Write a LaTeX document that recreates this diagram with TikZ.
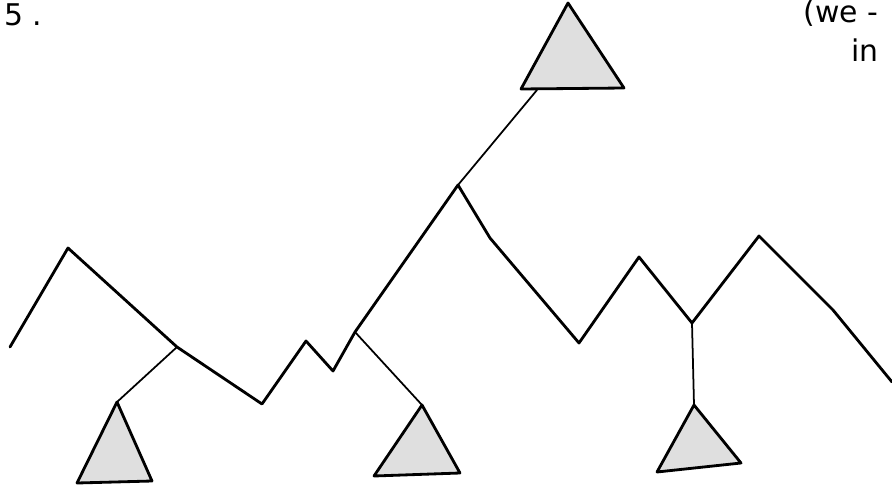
\documentclass[tikz,border=0pt]{standalone}
\usepackage{fontspec}
\setmainfont{DejaVu Sans}
\begin{document}
\begin{tikzpicture}[
    x=0.02cm, y=-0.02cm,
    ridge/.style={line width=1.6pt, line join=round, line cap=round},
    link/.style={line width=1pt, line cap=round},
    subtree/.style={draw, line width=1.6pt, line join=round, fill=gray!25},
    note/.style={font=\fontsize{17}{20}\selectfont, inner sep=0pt}
]
\useasboundingbox (0,0) rectangle (892,490);
\clip (0,0) rectangle (892,490);

% joints on the ridge
\coordinate (a) at (177,347);
\coordinate (b) at (355,332);
\coordinate (top) at (458,185);
\coordinate (c) at (692,323);

% apexes of the hanging triangles
\coordinate (ta) at (117,402);
\coordinate (tb) at (422,405);
\coordinate (tc) at (694,405);
\coordinate (root) at (537,90);

\draw[ridge] (10,347) -- (68,248) -- (a) -- (262,404) -- (306,341)
    -- (333,371) -- (b) -- (top) -- (490,238) -- (579,343) -- (639,257)
    -- (c) -- (759,236) -- (833,310) -- (892,382);

\draw[subtree] (568,3) -- (521,89) -- (624,88) -- cycle;
\draw[subtree] (ta) -- (77,483) -- (152,481) -- cycle;
\draw[subtree] (tb) -- (374,476) -- (460,473) -- cycle;
\draw[subtree] (tc) -- (657,472) -- (741,463) -- cycle;

\draw[link] (a) -- (ta);
\draw[link] (b) -- (tb);
\draw[link] (c) -- (tc);
\draw[link] (top) -- (root);

\node[note, anchor=base west] (num) at (4,26) {5 .};
\node[note, anchor=base west] (we) at (803,22) {(we -};
\node[note, anchor=base west] (in) at (851,61) {in};

\end{tikzpicture}
\end{document}
